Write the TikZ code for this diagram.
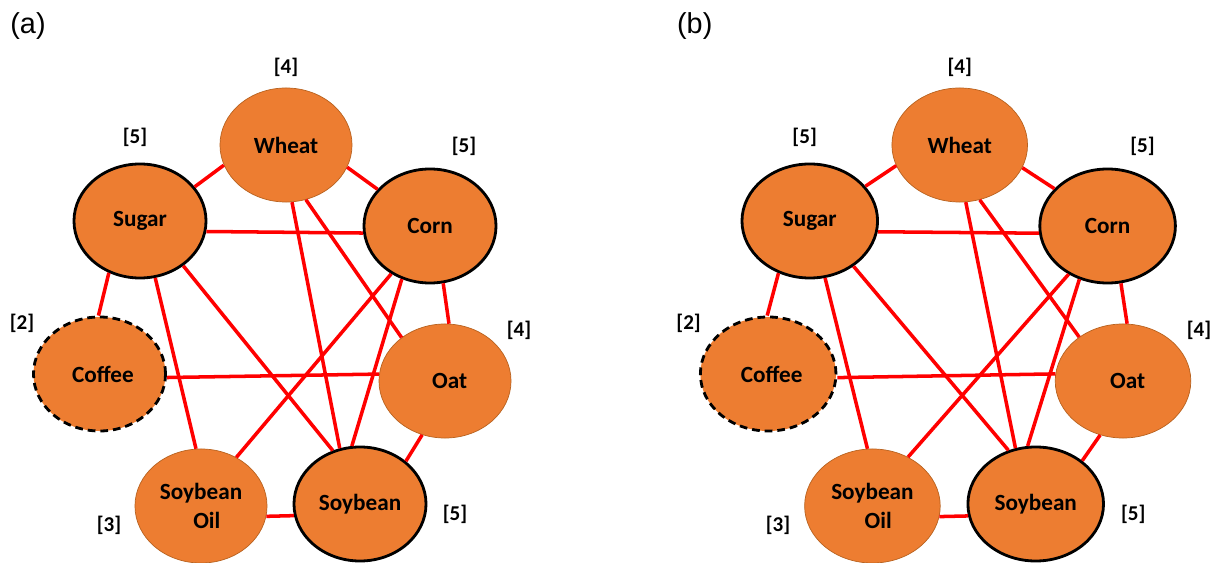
\documentclass[tikz,border=0pt]{standalone}
\usepackage{fontspec}
\setmainfont{Carlito}
\newfontfamily\panelfont{Liberation Sans}
\usetikzlibrary{shapes.geometric}
\definecolor{nodefill}{HTML}{ED7D31}
\definecolor{thinline}{HTML}{B8621F}
\definecolor{edgered}{HTML}{FF0000}
\tikzset{
  nd/.style={ellipse, fill=nodefill, inner sep=0pt, minimum height=2.85cm,
    font=\fontsize{16.5}{20.5}\selectfont\bfseries, align=center},
  thinb/.style={draw=thinline, line width=0.5pt},
  boldb/.style={draw=black, line width=2pt},
  dashb/.style={draw=black, line width=2pt, dash pattern=on 5.5pt off 3.5pt},
  deg/.style={font=\fontsize{15}{17}\selectfont\bfseries, inner sep=0pt},
  plabel/.style={font=\panelfont\fontsize{20.5}{24}\selectfont, inner sep=0pt},
  edge/.style={draw=edgered, line width=2.5pt},
}
\newcommand\drawpanel[2]{%
  \node[plabel] (lab) at (28,26) {#2};
  \node[nd,thinb,minimum width=#1*3.3cm] (W) at (286,145) {Wheat};
  \node[nd,boldb,minimum width=#1*3.3cm] (S) at (140,221) {Sugar};
  \node[nd,boldb,minimum width=#1*3.3cm] (C) at (430,226) {Corn};
  \node[nd,dashb,minimum width=#1*3.3cm] (F) at (99.5,374) {\hspace*{0.3em}Coffee};
  \node[nd,thinb,minimum width=#1*3.3cm] (O) at (445,381) {\hspace*{0.4em}Oat};
  \node[nd,thinb,minimum width=#1*3.3cm] (Y) at (201,506) {Soybean\\\hspace*{0.5em}Oil};
  \node[nd,boldb,minimum width=#1*3.3cm] (B) at (360,504) {Soybean};
  \node[deg] (dW) at (286,67) {[4]};
  \node[deg] (dS) at (135,137) {[5]};
  \node[deg] (dC) at (464,146) {[5]};
  \node[deg] (dF) at (22,323) {[2]};
  \node[deg] (dO) at (519,330) {[4]};
  \node[deg] (dY) at (109,525) {[3]};
  \node[deg] (dB) at (455,514) {[5]};
  \draw[edge] (W.198) -- (S.32.4);
  \draw[edge] (W.-20.4) -- (C.145.5);
  \draw[edge] (S.-9.5) -- (C.186.3);
  \draw[edge] (S.-121.5) -- (F.91.5);
  \draw[edge] (S.-75.3) -- (Y.95.1);
  \draw[edge] (S.-46.3) -- (B.117);
  \draw[edge] (W.-84.1) -- (B.110);
  \draw[edge] (W.-70) -- (O.135);
  \draw[edge] (C.-129.8) -- (Y.54.1);
  \draw[edge] (C.-118.7) -- (B.98.1);
  \draw[edge] (C.-77.6) -- (O.86.8);
  \draw[edge] (F.-3.5) -- (O.174.7);
  \draw[edge] (O.-113.2) -- (B.43);
  \draw[edge] (Y.-9.3) -- (B.190.8);
}
\begin{document}
\begin{tikzpicture}[x=0.025cm, y=-0.025cm]
  \useasboundingbox (0,0) rectangle (1212,563);
  \begin{scope}[name prefix=a-]
    \drawpanel{1}{(a)}
  \end{scope}
  \begin{scope}[name prefix=b-, shift={(666,0)}, xscale=1.027]
    \drawpanel{1.027}{(b)}
  \end{scope}
\end{tikzpicture}
\end{document}
